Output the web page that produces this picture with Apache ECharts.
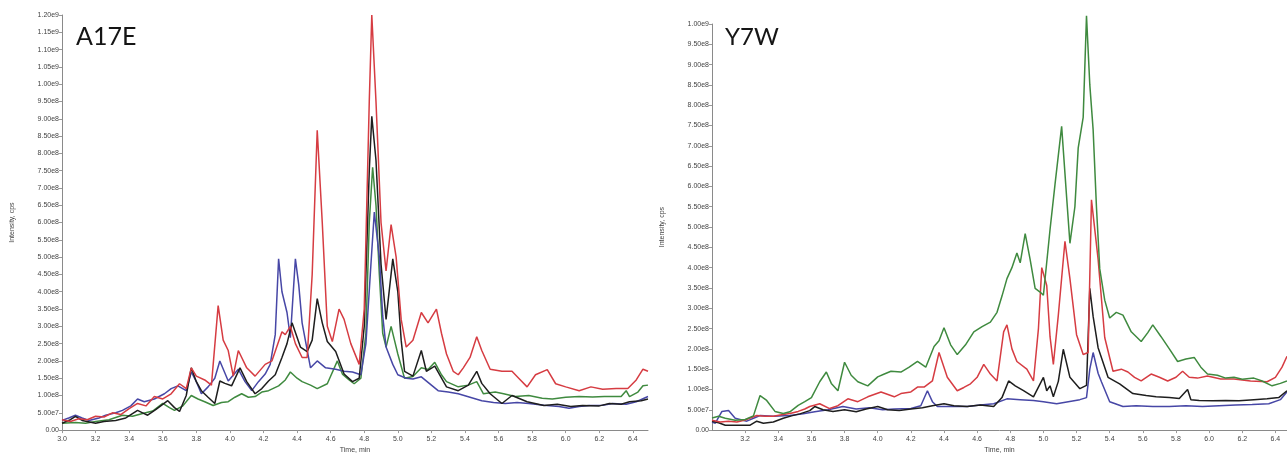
<!DOCTYPE html>
<html>
<head>
<meta charset="utf-8">
<script src="https://cdn.jsdelivr.net/npm/echarts@6/dist/echarts.min.js"></script>
<style>html,body{margin:0;padding:0;background:#fff;}#c{width:1287px;height:459px;}</style>
</head>
<body>
<div id="c"></div>
<script>
// Values are intensities in units of 1e8 cps, time in minutes
const titles = ['A17E', 'Y7W'];
const seriesNames = ['red', 'green', 'blue', 'black'];

const a17eRed = [[3.00,0.30],[3.05,0.25],[3.10,0.33],[3.15,0.30],[3.20,0.40],[3.25,0.38],[3.30,0.50],[3.35,0.45],[3.40,0.62],[3.45,0.77],[3.50,0.70],[3.55,0.97],[3.60,0.90],[3.65,1.05],[3.70,1.34],[3.74,1.20],[3.77,1.80],[3.80,1.56],[3.85,1.45],[3.89,1.30],[3.93,3.60],[3.96,2.60],[3.99,2.30],[4.02,1.56],[4.05,2.30],[4.10,1.80],[4.15,1.56],[4.21,1.90],[4.25,2.00],[4.31,2.84],[4.33,2.76],[4.36,3.00],[4.39,2.50],[4.43,2.10],[4.46,2.10],[4.49,4.50],[4.52,8.67],[4.55,6.00],[4.58,3.00],[4.61,2.56],[4.65,3.50],[4.68,3.20],[4.72,2.50],[4.77,1.90],[4.80,3.50],[4.83,9.50],[4.845,12.0],[4.87,9.5],[4.90,6.0],[4.93,4.60],[4.96,5.94],[4.99,5.00],[5.02,3.2],[5.05,2.40],[5.09,2.6],[5.14,3.40],[5.18,3.10],[5.23,3.50],[5.26,2.80],[5.29,2.20],[5.33,1.70],[5.36,1.60],[5.39,1.80],[5.43,2.1],[5.47,2.70],[5.50,2.3],[5.55,1.76],[5.62,1.70],[5.68,1.70],[5.72,1.50],[5.77,1.25],[5.82,1.60],[5.89,1.75],[5.94,1.34],[6.00,1.25],[6.08,1.14],[6.15,1.25],[6.22,1.18],[6.30,1.20],[6.37,1.20],[6.42,1.45],[6.46,1.76],[6.49,1.70]];
const a17eGreen = [[3.00,0.20],[3.08,0.22],[3.14,0.20],[3.20,0.25],[3.28,0.30],[3.36,0.43],[3.42,0.40],[3.48,0.48],[3.54,0.55],[3.60,0.77],[3.64,0.65],[3.67,0.57],[3.72,0.70],[3.77,1.00],[3.81,0.90],[3.85,0.82],[3.90,0.71],[3.95,0.80],[3.99,0.82],[4.03,0.95],[4.07,1.05],[4.11,0.95],[4.15,0.97],[4.19,1.10],[4.23,1.14],[4.29,1.28],[4.33,1.45],[4.36,1.68],[4.40,1.50],[4.43,1.40],[4.48,1.30],[4.52,1.20],[4.58,1.34],[4.64,2.00],[4.67,1.62],[4.71,1.45],[4.74,1.34],[4.78,1.50],[4.81,2.8],[4.83,6.0],[4.85,7.60],[4.87,6.5],[4.89,4.5],[4.91,2.8],[4.93,2.4],[4.96,3.00],[4.98,2.60],[5.00,2.20],[5.04,1.50],[5.09,1.55],[5.14,1.80],[5.18,1.75],[5.22,1.96],[5.26,1.60],[5.29,1.40],[5.36,1.25],[5.42,1.30],[5.47,1.40],[5.51,1.05],[5.58,1.10],[5.63,1.05],[5.70,0.97],[5.78,1.00],[5.86,0.92],[5.92,0.90],[6.00,0.95],[6.08,0.97],[6.16,0.96],[6.23,0.97],[6.33,0.97],[6.36,1.14],[6.38,0.97],[6.43,1.10],[6.46,1.28],[6.49,1.30]];
const a17eBlue = [[3.00,0.28],[3.04,0.35],[3.08,0.43],[3.12,0.35],[3.16,0.28],[3.22,0.35],[3.26,0.43],[3.32,0.50],[3.36,0.57],[3.41,0.70],[3.45,0.90],[3.49,0.82],[3.55,0.90],[3.61,1.05],[3.65,1.20],[3.69,1.28],[3.74,1.14],[3.77,1.68],[3.80,1.40],[3.83,1.05],[3.87,1.25],[3.91,1.50],[3.94,2.00],[3.99,1.42],[4.05,1.76],[4.09,1.40],[4.13,1.14],[4.17,1.40],[4.21,1.62],[4.24,1.90],[4.27,2.76],[4.29,4.95],[4.31,4.0],[4.34,3.40],[4.36,2.67],[4.39,4.95],[4.41,4.2],[4.43,3.10],[4.48,1.80],[4.52,2.00],[4.57,1.80],[4.63,1.76],[4.68,1.70],[4.73,1.68],[4.78,1.60],[4.81,2.5],[4.84,4.8],[4.86,6.30],[4.89,5.0],[4.91,3.3],[4.93,2.40],[4.97,1.90],[5.00,1.60],[5.05,1.50],[5.09,1.48],[5.14,1.54],[5.20,1.30],[5.24,1.14],[5.30,1.10],[5.36,1.05],[5.43,0.95],[5.50,0.85],[5.57,0.80],[5.64,0.77],[5.71,0.80],[5.78,0.77],[5.87,0.72],[5.96,0.68],[6.02,0.63],[6.08,0.68],[6.14,0.71],[6.22,0.72],[6.28,0.77],[6.36,0.75],[6.42,0.82],[6.49,0.97]];
const a17eBlack = [[3.00,0.20],[3.05,0.30],[3.08,0.40],[3.12,0.28],[3.20,0.20],[3.25,0.25],[3.32,0.28],[3.38,0.35],[3.45,0.57],[3.48,0.50],[3.51,0.43],[3.56,0.60],[3.63,0.85],[3.67,0.65],[3.70,0.54],[3.74,1.00],[3.77,1.80],[3.80,1.40],[3.83,1.14],[3.87,0.95],[3.91,0.77],[3.94,1.42],[3.97,1.35],[4.01,1.28],[4.06,1.80],[4.10,1.40],[4.15,1.05],[4.19,1.20],[4.23,1.42],[4.27,1.60],[4.31,2.10],[4.34,2.50],[4.37,3.10],[4.42,2.40],[4.46,2.27],[4.49,2.60],[4.52,3.80],[4.55,3.10],[4.58,2.56],[4.63,2.27],[4.68,1.62],[4.73,1.40],[4.77,1.50],[4.80,3.00],[4.83,7.50],[4.845,9.07],[4.87,7.8],[4.90,4.8],[4.93,3.20],[4.97,4.95],[5.00,4.0],[5.02,2.6],[5.04,1.70],[5.09,1.56],[5.14,2.30],[5.17,1.70],[5.22,1.85],[5.29,1.25],[5.36,1.14],[5.42,1.30],[5.47,1.70],[5.50,1.35],[5.55,1.05],[5.62,0.77],[5.68,1.00],[5.77,0.82],[5.87,0.71],[5.95,0.75],[6.03,0.68],[6.10,0.71],[6.20,0.70],[6.26,0.77],[6.33,0.75],[6.38,0.82],[6.45,0.85],[6.49,0.90]];

const y7wRed = [[3.00,0.24],[3.05,0.20],[3.10,0.22],[3.15,0.20],[3.20,0.25],[3.27,0.36],[3.32,0.34],[3.37,0.34],[3.42,0.38],[3.47,0.41],[3.52,0.46],[3.56,0.52],[3.59,0.58],[3.65,0.65],[3.71,0.53],[3.76,0.60],[3.82,0.77],[3.88,0.70],[3.94,0.82],[4.02,0.94],[4.10,0.82],[4.14,0.90],[4.20,0.94],[4.24,1.06],[4.28,1.06],[4.33,1.21],[4.37,1.91],[4.42,1.30],[4.48,0.97],[4.52,1.05],[4.56,1.14],[4.60,1.30],[4.64,1.62],[4.68,1.38],[4.72,1.21],[4.76,2.42],[4.78,2.59],[4.81,2.0],[4.84,1.69],[4.90,1.50],[4.94,1.21],[4.97,2.5],[4.99,4.00],[5.02,3.56],[5.04,2.3],[5.06,1.62],[5.09,2.83],[5.13,4.65],[5.16,3.73],[5.20,2.35],[5.24,1.86],[5.27,1.91],[5.29,5.67],[5.33,4.21],[5.37,2.28],[5.42,1.45],[5.47,1.5],[5.51,1.43],[5.55,1.3],[5.59,1.21],[5.65,1.38],[5.70,1.3],[5.75,1.21],[5.80,1.3],[5.84,1.45],[5.88,1.3],[5.93,1.28],[5.99,1.33],[6.07,1.26],[6.15,1.26],[6.25,1.21],[6.35,1.19],[6.40,1.30],[6.44,1.55],[6.47,1.82]];
const y7wGreen = [[3.00,0.30],[3.04,0.34],[3.08,0.29],[3.14,0.24],[3.20,0.26],[3.25,0.35],[3.29,0.85],[3.33,0.73],[3.38,0.46],[3.43,0.41],[3.47,0.45],[3.52,0.61],[3.56,0.70],[3.60,0.80],[3.65,1.19],[3.69,1.43],[3.72,1.15],[3.76,0.97],[3.80,1.67],[3.84,1.35],[3.88,1.19],[3.94,1.09],[4.00,1.31],[4.04,1.38],[4.08,1.45],[4.14,1.43],[4.19,1.55],[4.24,1.69],[4.29,1.55],[4.34,2.06],[4.37,2.20],[4.40,2.52],[4.44,2.10],[4.48,1.86],[4.53,2.10],[4.58,2.42],[4.63,2.55],[4.68,2.66],[4.72,2.90],[4.75,3.30],[4.78,3.73],[4.81,4.0],[4.84,4.36],[4.86,4.12],[4.89,4.84],[4.92,4.2],[4.95,3.49],[4.98,3.40],[5.00,3.32],[5.04,4.94],[5.07,6.05],[5.11,7.48],[5.14,5.74],[5.16,4.60],[5.19,5.50],[5.21,6.95],[5.24,7.70],[5.26,10.20],[5.28,8.5],[5.30,7.40],[5.32,5.5],[5.34,3.97],[5.37,3.2],[5.40,2.76],[5.44,2.9],[5.48,2.83],[5.53,2.42],[5.59,2.18],[5.63,2.40],[5.66,2.59],[5.71,2.30],[5.76,2.00],[5.81,1.69],[5.86,1.75],[5.91,1.79],[5.95,1.55],[5.99,1.38],[6.05,1.35],[6.10,1.28],[6.15,1.30],[6.20,1.25],[6.27,1.28],[6.32,1.21],[6.38,1.09],[6.43,1.15],[6.47,1.21]];
const y7wBlue = [[3.00,0.20],[3.02,0.17],[3.06,0.46],[3.10,0.48],[3.14,0.29],[3.21,0.22],[3.29,0.36],[3.37,0.34],[3.47,0.36],[3.55,0.40],[3.62,0.45],[3.70,0.50],[3.79,0.58],[3.87,0.52],[3.95,0.55],[4.03,0.50],[4.10,0.52],[4.20,0.53],[4.26,0.60],[4.30,0.97],[4.33,0.70],[4.36,0.58],[4.45,0.58],[4.54,0.58],[4.62,0.62],[4.70,0.65],[4.78,0.77],[4.86,0.75],[4.94,0.73],[5.00,0.70],[5.08,0.65],[5.15,0.70],[5.22,0.75],[5.26,0.80],[5.28,1.50],[5.30,1.91],[5.33,1.40],[5.35,1.19],[5.40,0.70],[5.48,0.58],[5.56,0.60],[5.66,0.58],[5.76,0.58],[5.86,0.60],[5.96,0.58],[6.06,0.60],[6.16,0.62],[6.26,0.63],[6.36,0.65],[6.43,0.75],[6.47,0.94]];
const y7wBlack = [[3.00,0.22],[3.04,0.18],[3.08,0.12],[3.15,0.12],[3.23,0.12],[3.27,0.22],[3.31,0.17],[3.37,0.20],[3.43,0.29],[3.48,0.35],[3.53,0.40],[3.59,0.48],[3.62,0.58],[3.67,0.50],[3.73,0.46],[3.80,0.50],[3.87,0.45],[3.93,0.52],[4.00,0.58],[4.06,0.50],[4.13,0.48],[4.20,0.52],[4.27,0.55],[4.33,0.60],[4.40,0.65],[4.46,0.60],[4.54,0.58],[4.62,0.62],[4.70,0.58],[4.75,0.80],[4.79,1.21],[4.83,1.09],[4.88,0.97],[4.94,0.82],[5.00,1.30],[5.02,0.97],[5.04,1.09],[5.06,0.82],[5.09,1.20],[5.12,1.99],[5.16,1.30],[5.22,1.02],[5.26,1.10],[5.28,3.49],[5.30,2.80],[5.33,2.03],[5.39,1.30],[5.46,1.14],[5.54,0.90],[5.62,0.85],[5.68,0.82],[5.76,0.80],[5.82,0.78],[5.87,1.00],[5.89,0.75],[5.94,0.73],[6.02,0.72],[6.10,0.73],[6.18,0.72],[6.27,0.75],[6.35,0.77],[6.42,0.80],[6.47,0.97]];

const colors = {red:'#d63c42', green:'#3f8a3f', blue:'#4747a6', black:'#1e1e1e'};
const labelFont = 'Liberation Sans';

function yFmt(v){
  if (Math.abs(v) < 1e-9) return '0.00';
  if (Math.abs(v*2 - Math.round(v*2)) > 1e-6) return '';
  return (v*1e8).toExponential(2).replace('e+','e');
}
function xFmt(v){
  if (Math.abs(v*5 - Math.round(v*5)) > 1e-6) return '';
  return v.toFixed(1);
}

const chart = echarts.init(document.getElementById('c'), null, {renderer:'canvas'});

function mkX(idx, min, max, showMin){
  return {
    type:'value', gridIndex:idx, min:min, max:max, interval:0.2,
    name:'Time, min', nameLocation:'middle', nameGap:13,
    nameTextStyle:{fontSize:7, color:'#444', fontFamily:labelFont},
    axisLine:{show:true, onZero:false, lineStyle:{color:'#8a8a8a', width:1}},
    axisTick:{show:true, length:3, lineStyle:{color:'#999'}},
    axisLabel:{fontSize:7, color:'#444', fontFamily:labelFont, margin:5, formatter:xFmt, showMinLabel:showMin, showMaxLabel:false},
    splitLine:{show:false}
  };
}
function mkY(idx, max){
  return {
    type:'value', gridIndex:idx, min:0, max:max, interval:0.5,
    name:'Intensity, cps', nameLocation:'middle', nameGap:46, nameRotate:90,
    nameTextStyle:{fontSize:7, color:'#444', fontFamily:labelFont},
    axisLine:{show:true, lineStyle:{color:'#8a8a8a', width:1}},
    axisTick:{show:true, length:3, lineStyle:{color:'#999'}},
    axisLabel:{fontSize:7, color:'#444', fontFamily:labelFont, margin:3, formatter:yFmt},
    splitLine:{show:false}
  };
}
function mkS(name, data, idx){
  return {
    type:'line', name:name, xAxisIndex:idx, yAxisIndex:idx, data:data,
    showSymbol:false, symbol:'none', clip:false, animation:false,
    lineStyle:{color:colors[name], width:1.5}, itemStyle:{color:colors[name]}
  };
}

chart.setOption({
  backgroundColor:'#fff',
  animation:false,
  title:[
    {text:titles[0], left:71, top:19, textStyle:{fontSize:25, fontWeight:'normal', color:'#151515', fontFamily:'Lato'}},
    {text:titles[1], left:720, top:20, textStyle:{fontSize:24, fontWeight:'normal', color:'#151515', fontFamily:'Lato'}}
  ],
  grid:[
    {left:62, top:15, width:586, height:422},
    {left:712, top:24, width:575, height:413}
  ],
  xAxis:[mkX(0, 3.0, 6.49, true), mkX(1, 3.0, 6.47, false)],
  yAxis:[mkY(0, 12), mkY(1, 10)],
  series:[
    mkS('green', a17eGreen, 0), mkS('blue', a17eBlue, 0), mkS('black', a17eBlack, 0), mkS('red', a17eRed, 0),
    mkS('blue', y7wBlue, 1), mkS('black', y7wBlack, 1), mkS('red', y7wRed, 1), mkS('green', y7wGreen, 1)
  ]
});
</script>
</body>
</html>
